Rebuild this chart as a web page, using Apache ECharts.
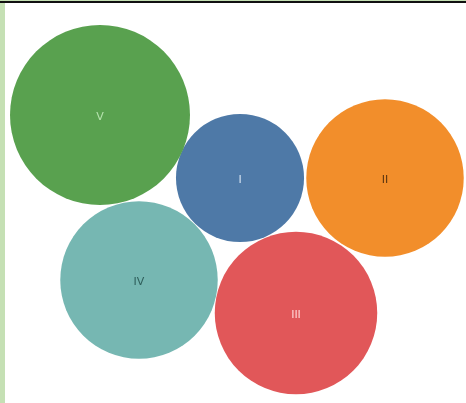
<!DOCTYPE html>
<html>
<head>
<meta charset="utf-8">
<script src="https://cdn.jsdelivr.net/npm/echarts@6/dist/echarts.min.js"></script>
<style>
  html, body { margin: 0; padding: 0; background: #ffffff; }
  #frame { position: relative; width: 466px; height: 403px; overflow: hidden; background: #ffffff; }
  #topEdge { position: absolute; left: 0; top: 0; width: 466px; height: 1px; background: #c5e0b4; }
  #topRule { position: absolute; left: 0; top: 1px; width: 466px; height: 2px; background: #111111; }
  #leftEdge { position: absolute; left: 0; top: 3px; width: 5px; height: 400px; background: #c5e0b4; }
  #chart { position: absolute; left: 5px; top: 3px; width: 461px; height: 400px; }
</style>
</head>
<body>
<div id="frame">
  <div id="topEdge"></div>
  <div id="topRule"></div>
  <div id="leftEdge"></div>
  <div id="chart"></div>
</div>
<script>
// Bubble groups: label, value (bubble area), and packed layout position
const names = ['I', 'II', 'III', 'IV', 'V'];
const values = [41, 62, 66, 62, 81];
const posX = [235, 380, 291, 134, 95];
const posY = [175, 175, 310, 277, 112];

const colors = ['#4e79a7', '#f28e2b', '#e15759', '#76b7b2', '#59a14f'];
const labelColors = ['#d6e4f2', '#5a3410', '#ffd6d6', '#2f5f5b', '#b6e3ae'];

const chart = echarts.init(document.getElementById('chart'), null, { renderer: 'canvas' });

const data = names.map((n, i) => ({
  name: n,
  value: [posX[i], posY[i], values[i]],
  itemStyle: { color: colors[i] },
  label: { color: labelColors[i] }
}));

chart.setOption({
  animation: false,
  grid: { left: 0, right: 0, top: 0, bottom: 0 },
  xAxis: { type: 'value', min: 0, max: 461, show: false },
  yAxis: { type: 'value', min: 0, max: 400, inverse: true, show: false },
  series: [{
    type: 'scatter',
    data: data,
    // diameter grows with the square root of the value so area tracks value
    symbolSize: v => Math.sqrt(v[2]) * 20,
    itemStyle: { opacity: 1 },
    label: {
      show: true,
      position: 'inside',
      offset: [0, 2],
      formatter: p => p.name,
      fontFamily: 'DejaVu Sans, sans-serif',
      fontSize: 11
    }
  }]
});
</script>
</body>
</html>
